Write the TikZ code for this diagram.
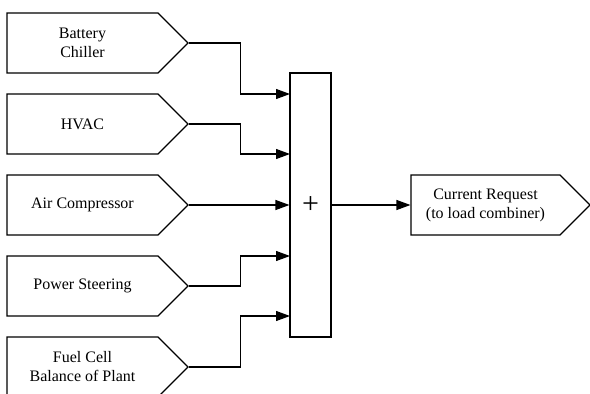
\documentclass[tikz,border=0pt]{standalone}
\usepackage{fontspec}
\setmainfont{Liberation Serif}
\usetikzlibrary{shapes.symbols,arrows.meta}

\begin{document}
\begin{tikzpicture}[x=1pt,y=-1pt,
    load/.style={draw,line width=1.1pt,signal,signal to=east,
      signal pointer angle=90,minimum width=181pt,minimum height=60pt,
      inner sep=0pt,align=center,font=\fontsize{16}{19}\selectfont},
    feed/.style={-{Triangle[length=14pt,width=10pt]},line width=1.1pt}]
  \useasboundingbox (0,0) rectangle (590,394);
  % loads
  \node[load] (chiller) at (82.5,43) {Battery\\Chiller};
  \node[load] (hvac) at (82.5,124) {HVAC};
  \node[load] (comp) at (82.5,205) {Air Compressor};
  \node[load] (steer) at (82.5,286) {Power Steering};
  \node[load] (bop) at (82.5,367) {Fuel Cell\\Balance of Plant};
  % summing block
  \node[draw,line width=1.1pt,minimum width=41pt,minimum height=264pt,
    inner sep=0pt,font=\fontsize{30}{30}\selectfont] (sum) at (310.5,205) {+};
  \coordinate (in1) at (290,94);
  \coordinate (in2) at (290,154);
  \coordinate (in4) at (290,256);
  \coordinate (in5) at (290,316);
  \draw[feed] (chiller.east) -- ++(52,0) |- (in1);
  \draw[feed] (hvac.east) -- ++(52,0) |- (in2);
  \draw[feed] (comp.east) -- (sum.west |- comp.east);
  \draw[feed] (steer.east) -- ++(52,0) |- (in4);
  \draw[feed] (bop.east) -- ++(52,0) |- (in5);
  % output
  \node[load,minimum width=179pt] (request) at (485.5,205)
    {Current Request\\(to load combiner)};
  \draw[feed] (sum.east) -- (request.west);
\end{tikzpicture}
\end{document}
